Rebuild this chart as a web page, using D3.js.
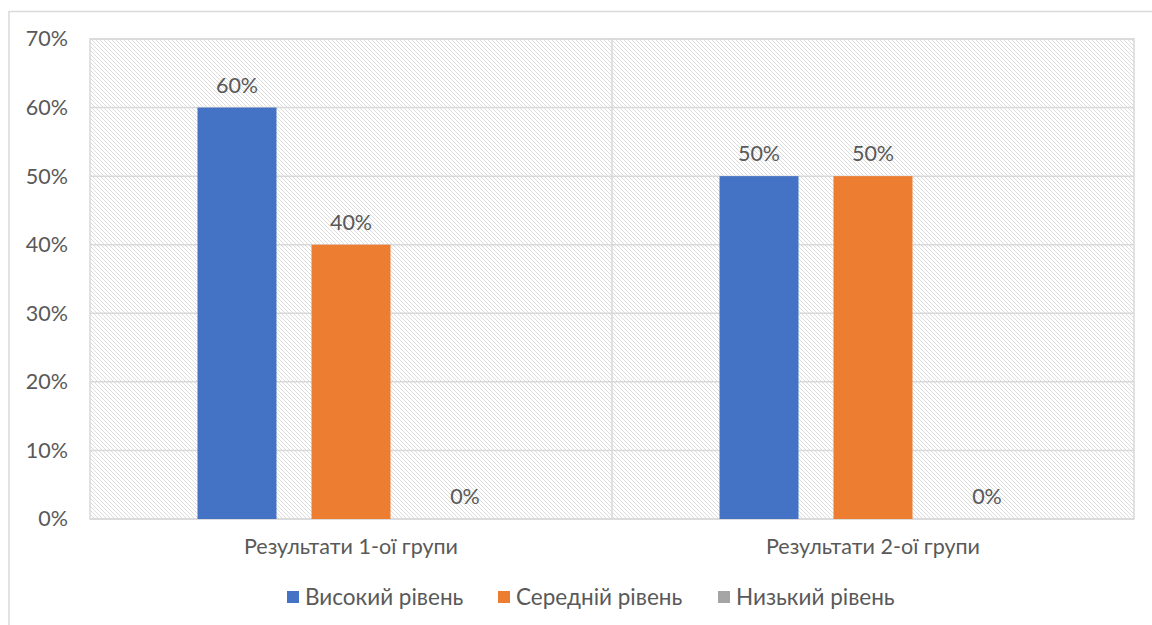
<!DOCTYPE html>
<html><head><meta charset="utf-8">
<script src="https://cdn.jsdelivr.net/npm/d3@7"></script>
<style>body{margin:0;background:#fff}svg{display:block}text{font-family:Lato,"Open Sans",sans-serif;fill:#595959}</style>
</head><body>
<script>
const categories = ["Результати 1-ої групи", "Результати 2-ої групи"];
const seriesNames = ["Високий рівень", "Середній рівень", "Низький рівень"];
const seriesColors = ["#4472C4", "#ED7D31", "#A5A5A5"];
const values = [[0.60, 0.40, 0.00], [0.50, 0.50, 0.00]];
const yTicks = [0, 0.1, 0.2, 0.3, 0.4, 0.5, 0.6, 0.7];

const W = 1152, H = 625;
const m = {left: 90, right: 18, top: 39, bottom: 106};
const FS = 21.5;
const svg = d3.select("body").append("svg").attr("width", W).attr("height", H);

const defs = svg.append("defs");
const pat = defs.append("pattern").attr("id", "hatch").attr("patternUnits", "userSpaceOnUse")
  .attr("width", 4).attr("height", 4);
pat.append("rect").attr("width", 4).attr("height", 4).attr("fill", "#fff");
pat.append("path").attr("d", "M-1,-1 L5,5 M-1,3 L1,5 M3,-1 L5,1").attr("stroke", "#dcdcdc").attr("stroke-width", 1);

// outer frame
svg.append("path").attr("d", `M9,${H} L9,11.5 L${W},11.5`).attr("fill", "none").attr("stroke", "#d9d9d9").attr("stroke-width", 1.5);

const x0 = d3.scaleBand().domain(categories).range([m.left, W - m.right]);
const x1 = d3.scaleBand().domain(seriesNames).range([0, x0.bandwidth()]).paddingInner(0.307).paddingOuter(0.943);
const y = d3.scaleLinear().domain([0, 0.7]).range([H - m.bottom, m.top]);

svg.append("rect").attr("x", m.left).attr("y", m.top).attr("width", W - m.left - m.right)
  .attr("height", y(0) - m.top).attr("fill", "url(#hatch)").attr("stroke", "#d9d9d9").attr("stroke-width", 1.5);

// gridlines
svg.append("g").selectAll("line").data(yTicks).join("line")
  .attr("x1", m.left).attr("x2", W - m.right).attr("y1", d => y(d)).attr("y2", d => y(d))
  .attr("stroke", "#d9d9d9").attr("stroke-width", 1.5);
// category separator
svg.append("line").attr("x1", x0(categories[1])).attr("x2", x0(categories[1]))
  .attr("y1", m.top).attr("y2", y(0)).attr("stroke", "#d9d9d9").attr("stroke-width", 1.5);

// y axis labels
const yAxis = d3.axisLeft(y).tickValues(yTicks).tickFormat(d3.format(".0%")).tickSize(0).tickPadding(22);
const ga = svg.append("g").attr("transform", `translate(${m.left},0)`).call(yAxis);
ga.select(".domain").remove();
ga.selectAll("text").attr("font-size", FS).style("font-family", "Lato, sans-serif").attr("fill", "#595959");

// x axis labels
const xAxis = d3.axisBottom(x0).tickSize(0).tickPadding(20);
const gx = svg.append("g").attr("transform", `translate(0,${y(0)})`).call(xAxis);
gx.select(".domain").remove();
gx.selectAll("text").attr("font-size", FS).style("font-family", "Lato, sans-serif").attr("fill", "#595959");

// bars
const groups = svg.append("g").selectAll("g").data(categories).join("g")
  .attr("transform", c => `translate(${x0(c)},0)`);
groups.selectAll("rect").data((c, i) => seriesNames.map((s, j) => ({s, v: values[i][j], c: seriesColors[j]})))
  .join("rect")
  .attr("x", d => x1(d.s)).attr("width", x1.bandwidth())
  .attr("y", d => y(d.v)).attr("height", d => y(0) - y(d.v)).attr("fill", d => d.c);
groups.selectAll("text.lbl").data((c, i) => seriesNames.map((s, j) => ({s, v: values[i][j]})))
  .join("text").attr("class", "lbl")
  .attr("x", d => x1(d.s) + x1.bandwidth() / 2).attr("y", d => y(d.v) - 15)
  .attr("text-anchor", "middle").attr("font-size", FS).text(d => d3.format(".0%")(d.v));

// legend
const legX = [287, 498, 718];
const leg = svg.append("g").selectAll("g").data(seriesNames).join("g")
  .attr("transform", (d, i) => `translate(${legX[i]},597)`);
leg.append("rect").attr("x", 0).attr("y", -6).attr("width", 12).attr("height", 12).attr("fill", (d, i) => seriesColors[i]);
leg.append("text").attr("x", 18).attr("y", 8).attr("font-size", 22.5).text(d => d);
</script>
</body></html>
